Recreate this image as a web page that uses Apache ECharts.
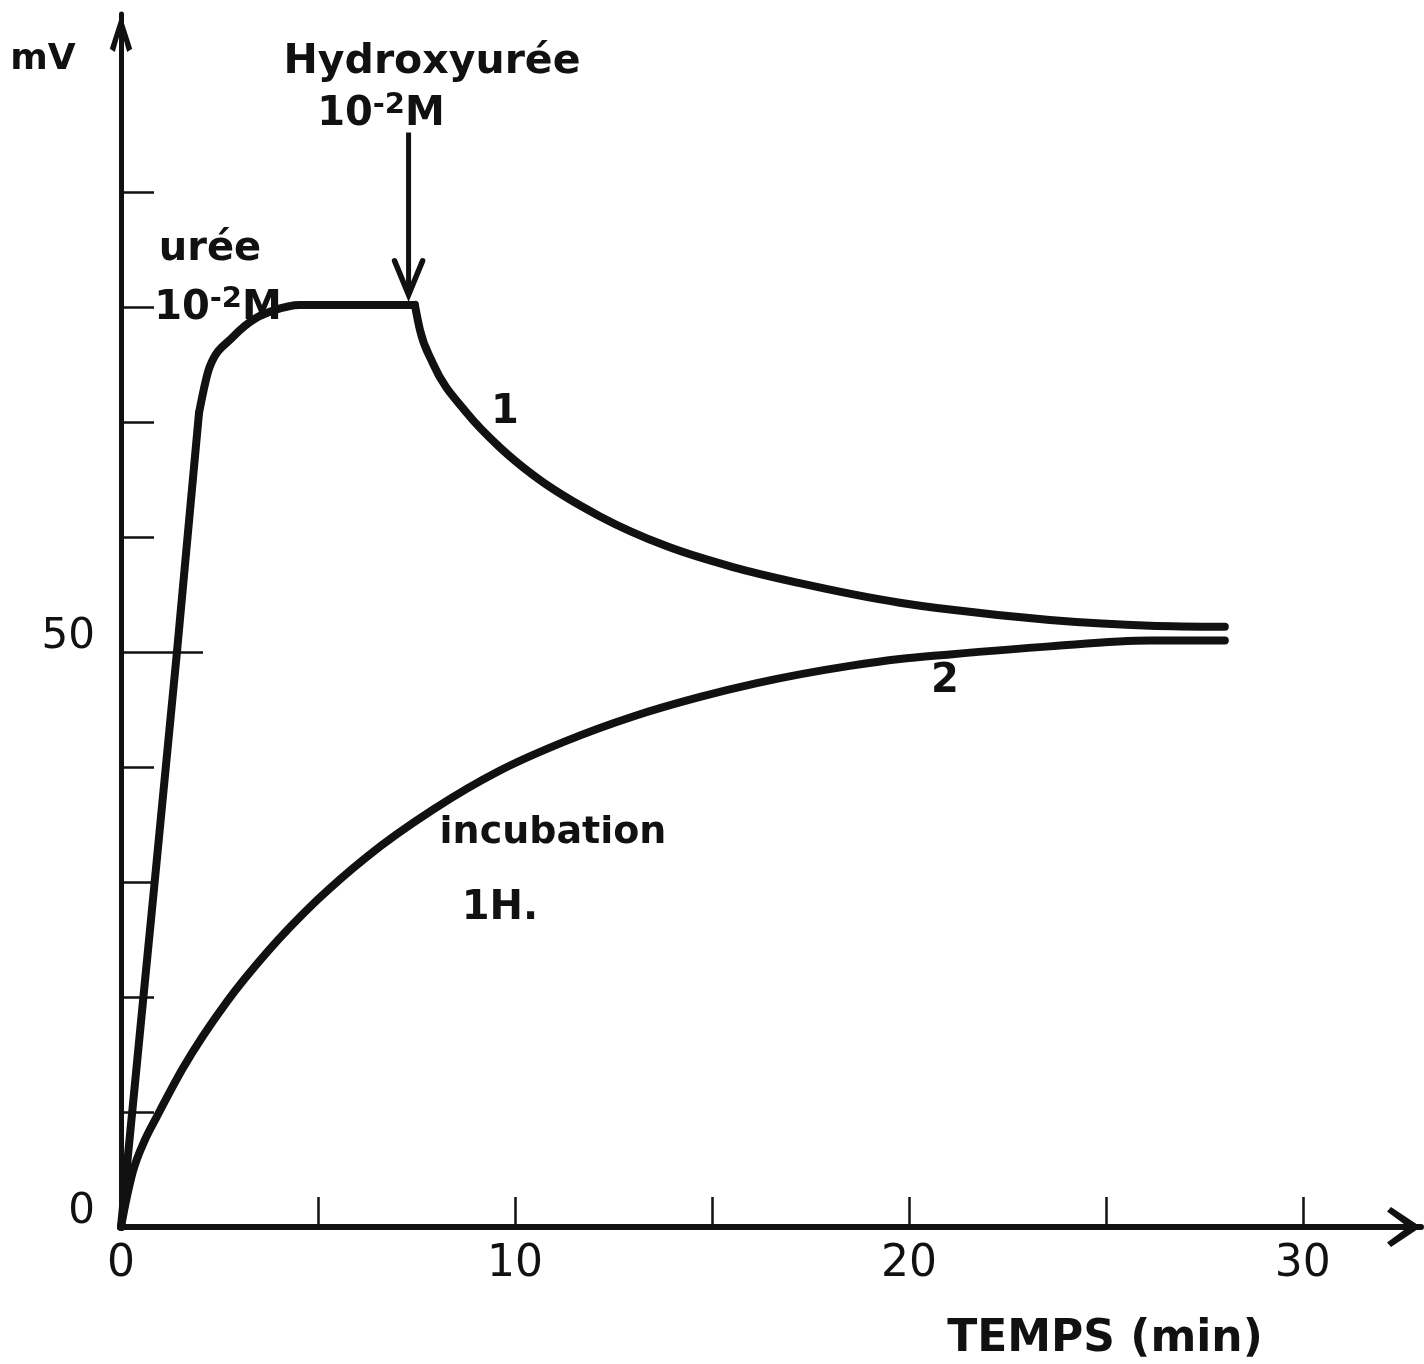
<!DOCTYPE html>
<html>
<head>
<meta charset="utf-8">
<title>Hydroxyurée — potentiel (mV) en fonction du temps</title>
<script src="https://cdn.jsdelivr.net/npm/echarts@6.0.0/dist/echarts.min.js"></script>
<style>
  html, body { margin: 0; padding: 0; background: #ffffff; }
  #chart { width: 1424px; height: 1364px; }
</style>
</head>
<body>
<div id="chart"></div>
<script>
// Courbe 1 : montée rectiligne après urée 10^-2 M  [temps (min), mV]
const curve1Rise = [[0, 0], [0.56, 19.7], [1.42, 50.0], [1.98, 70.8]];
// Courbe 1 : épaulement et plateau
const curve1Top = [
  [1.98, 70.8], [2.25, 74.8], [2.84, 77.4], [3.45, 79.1], [3.86, 79.7],
  [4.54, 80.2], [5.80, 80.2], [7.46, 80.2]
];
// Courbe 1 : décroissance après ajout d'hydroxyurée 10^-2 M
const curve1Hydroxy = [
  [7.46, 80.2], [7.59, 78.0], [7.92, 75.1], [8.78, 70.8], [9.62, 67.8], [10.46, 65.4],
  [12.16, 61.8], [13.86, 59.2], [15.53, 57.4], [17.23, 56.0], [19.77, 54.3],
  [21.04, 53.7], [23.58, 52.8], [26.12, 52.3], [28.02, 52.2]
];
// Courbe 2 : après incubation 1 H
const curve2 = [
  [0, 0], [0.13, 2.3], [0.30, 4.8], [0.61, 7.6], [0.91, 9.6], [1.57, 13.8], [2.69, 19.6],
  [3.71, 23.9], [4.97, 28.4], [6.24, 32.2], [7.92, 36.3], [9.62, 39.7],
  [11.32, 42.3], [13.0, 44.4], [14.70, 46.1], [16.14, 47.3], [18.5, 48.8],
  [19.77, 49.4], [21.04, 49.8], [23.58, 50.5], [26.12, 51.0], [28.02, 51.0]
];

// Graduations
const xTicks = [0, 5, 10, 15, 20, 25, 30];
const xTickLabels = [0, 10, 20, 30];
const yTicks = [10, 20, 30, 40, 50, 60, 70, 80, 90];
const yLongTick = [50];
const yTickLabels = [0, 50];

// Flèche d'injection de l'hydroxyurée : [temps, mV départ, mV pointe]
const hydroxyArrow = [[7.3, 95.2, 80.9]];

const INK = '#111111';
const FONT = '"DejaVu Sans", "Liberation Sans", sans-serif';
// pointes de flèche ouvertes (chevrons) des axes, orientées vers le haut
const chevronNarrow = 'path://M10,0L20,31L15.5,34L10,14L4.5,34L0,31Z';
const chevronWide = 'path://M20,0L40,30L35.5,34L20,13L4.5,34L0,30Z';

// Tracé cubique monotone en x (pas de dépassement sur le plateau)
function monotonePath(p) {
  const n = p.length;
  const sign = v => (v < 0 ? -1 : 1);
  const h = [], s = [];
  for (let i = 0; i < n - 1; i++) {
    h[i] = p[i + 1][0] - p[i][0];
    s[i] = (p[i + 1][1] - p[i][1]) / h[i];
  }
  const t = new Array(n).fill(0);
  for (let i = 1; i < n - 1; i++) {
    const q = (s[i - 1] * h[i] + s[i] * h[i - 1]) / (h[i - 1] + h[i]);
    t[i] = (sign(s[i - 1]) + sign(s[i])) *
      Math.min(Math.abs(s[i - 1]), Math.abs(s[i]), 0.5 * Math.abs(q)) || 0;
  }
  if (n > 2) {
    t[0] = (3 * s[0] - t[1]) / 2;
    if (t[0] * s[0] < 0) t[0] = 0;
    t[n - 1] = (3 * s[n - 2] - t[n - 2]) / 2;
    if (t[n - 1] * s[n - 2] < 0) t[n - 1] = 0;
  } else {
    t[0] = t[1] = s[0];
  }
  let d = 'M' + p[0][0] + ' ' + p[0][1];
  for (let i = 0; i < n - 1; i++) {
    const k = h[i] / 3;
    d += ' C' + (p[i][0] + k) + ' ' + (p[i][1] + t[i] * k) + ' ' +
      (p[i + 1][0] - k) + ' ' + (p[i + 1][1] - t[i + 1] * k) + ' ' +
      p[i + 1][0] + ' ' + p[i + 1][1];
  }
  return d;
}

function curveSeries(name, points) {
  return {
    name: name,
    type: 'custom',
    coordinateSystem: 'cartesian2d',
    data: points,
    encode: { x: 0, y: 1 },
    silent: true,
    clip: false,
    z: 3,
    renderItem: function (params, api) {
      if (params.dataIndex !== 0) return null;
      const px = points.map(pt => api.coord(pt));
      return {
        type: 'path',
        shape: { pathData: monotonePath(px) },
        style: { fill: 'none', stroke: INK, lineWidth: 8, lineCap: 'round', lineJoin: 'round' }
      };
    }
  };
}

const arrowSeries = {
  name: 'hydroxyurée',
  type: 'custom',
  coordinateSystem: 'cartesian2d',
  data: hydroxyArrow,
  encode: { x: 0, y: [1, 2] },
  silent: true,
  clip: false,
  z: 4,
  renderItem: function (params, api) {
    const top = api.coord([api.value(0), api.value(1)]);
    const tip = api.coord([api.value(0), api.value(2)]);
    return {
      type: 'group',
      children: [
        { type: 'line', shape: { x1: top[0], y1: top[1], x2: tip[0], y2: tip[1] - 2 },
          style: { stroke: INK, lineWidth: 5, lineCap: 'butt' } },
        { type: 'polyline',
          shape: { points: [[tip[0] - 14, tip[1] - 36], [tip[0], tip[1] - 2], [tip[0] + 14, tip[1] - 36]] },
          style: { fill: 'none', stroke: INK, lineWidth: 5.5, lineCap: 'round', lineJoin: 'miter' } }
      ]
    };
  }
};

function label(text, x, y, size, weight) {
  return {
    type: 'text',
    x: x, y: y, z: 10,
    style: {
      text: text,
      fill: INK,
      font: (weight || 'bold') + ' ' + size + 'px ' + FONT,
      align: 'center', verticalAlign: 'middle',
      textAlign: 'center', textVerticalAlign: 'middle'
    }
  };
}

function concentration(x, y) {
  return {
    type: 'text',
    x: x, y: y, z: 10,
    style: {
      text: '{n|10}{s|-2}{n|M}',
      fill: INK,
      align: 'center', verticalAlign: 'middle',
      textAlign: 'center', textVerticalAlign: 'middle',
      rich: {
        n: { fontSize: 40, fontWeight: 'bold', fontFamily: FONT, fill: INK, verticalAlign: 'bottom', lineHeight: 44 },
        s: { fontSize: 29, fontWeight: 'bold', fontFamily: FONT, fill: INK, verticalAlign: 'top', lineHeight: 30 }
      }
    }
  };
}

const chart = echarts.init(document.getElementById('chart'), null, { renderer: 'canvas' });

chart.setOption({
  backgroundColor: '#ffffff',
  animation: false,
  grid: { left: 121, right: 3, top: 14, bottom: 137, containLabel: false },
  xAxis: {
    type: 'value',
    min: 0, max: 33, interval: 5,
    splitLine: { show: false },
    axisLine: {
      show: true,
      onZero: false,
      lineStyle: { color: INK, width: 6 },
      symbol: ['none', chevronWide],
      symbolSize: [40, 34],
      symbolOffset: [0, -17]
    },
    axisTick: {
      show: true, inside: true, length: 30,
      customValues: xTicks,
      lineStyle: { color: INK, width: 2.5 }
    },
    axisLabel: {
      show: true, margin: 16,
      customValues: xTickLabels,
      color: INK, fontSize: 44, fontFamily: FONT
    }
  },
  yAxis: [
    {
      type: 'value',
      min: 0, max: 105.5, interval: 10,
      position: 'left',
      splitLine: { show: false },
      axisLine: {
        show: true,
        onZero: false,
        lineStyle: { color: INK, width: 5 },
        symbol: ['none', chevronNarrow],
        symbolSize: [26, 38],
        symbolOffset: [0, -19]
      },
      axisTick: {
        show: true, inside: true, length: 33,
        customValues: yTicks,
        lineStyle: { color: INK, width: 2.5 }
      },
      axisLabel: {
        show: true, margin: 26,
        customValues: yTickLabels,
        color: INK, fontSize: 42, fontFamily: FONT,
        verticalAlign: 'bottom', lineHeight: 30
      }
    },
    {
      type: 'value',
      min: 0, max: 105.5, interval: 10,
      position: 'left',
      splitLine: { show: false },
      axisLine: { show: false },
      axisTick: {
        show: true, inside: true, length: 82,
        customValues: yLongTick,
        lineStyle: { color: INK, width: 2.5 }
      },
      axisLabel: { show: false }
    }
  ],
  series: [
    curveSeries('1 montée', curve1Rise),
    curveSeries('1 plateau', curve1Top),
    curveSeries('1 hydroxyurée', curve1Hydroxy),
    curveSeries('2', curve2),
    arrowSeries
  ],
  graphic: [
    label('mV', 43, 60, 36),
    label('Hydroxyurée', 432, 62, 41),
    concentration(381, 113),
    label('urée', 210, 250, 40),
    concentration(218, 307),
    label('1', 505, 413, 40),
    label('2', 945, 682, 40),
    label('incubation', 553, 833, 38),
    label('1H.', 500, 909, 40),
    label('TEMPS (min)', 1105, 1340, 44)
  ]
});
</script>
</body>
</html>
